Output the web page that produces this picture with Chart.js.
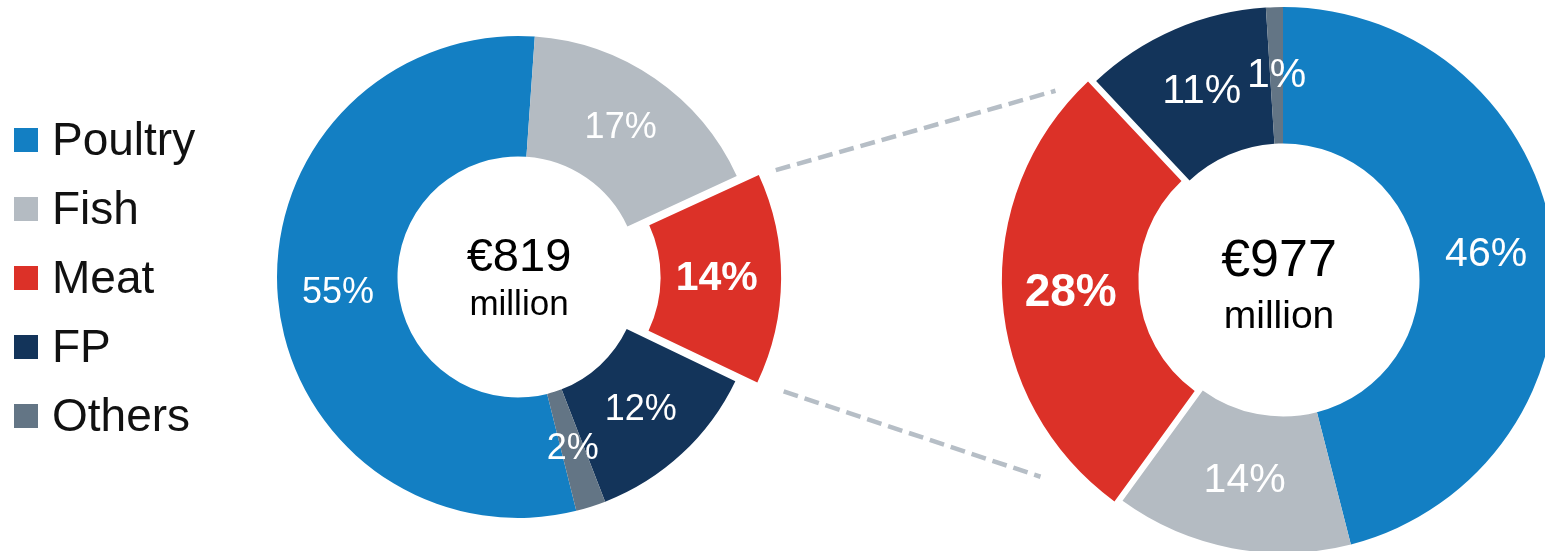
<!DOCTYPE html>
<html>
<head>
<meta charset="utf-8">
<script src="https://cdn.jsdelivr.net/npm/chart.js@4.4.1/dist/chart.umd.min.js"></script>
<style>
  html, body { margin:0; padding:0; background:#fff; width:1545px; height:551px; overflow:hidden;
    font-family:"Liberation Sans", Arial, Helvetica, sans-serif; }
  #wrap { position:relative; width:1545px; height:551px; }
  #wrap canvas { position:absolute; left:0; top:0; }
  #right { pointer-events:none; }
  .lg-box { position:absolute; left:14px; width:24px; height:24px; }
  .lg-txt { position:absolute; left:52px; font-size:46px; line-height:46px; color:#111; white-space:nowrap; }
</style>
</head>
<body>
<div id="wrap">
  <canvas id="left" width="1545" height="551"></canvas>
  <canvas id="right" width="1545" height="551"></canvas>
  <div id="legend"></div>
</div>
<script>
// ---- data ----
const categories  = ['Poultry', 'Fish', 'Meat', 'FP', 'Others'];
const colors      = ['#137FC3', '#B4BBC2', '#DC3128', '#13345A', '#637585'];
const leftValues  = [55, 17, 14, 12, 2];
const rightValues = [46, 14, 28, 11, 1];
const leftTotal   = '€819';
const rightTotal  = '€977';
const unitLabel   = 'million';
const highlight   = 2; // Meat

const FONT = '"Liberation Sans", Arial, Helvetica, sans-serif';

// ---- legend (HTML) ----
const legend = document.getElementById('legend');
categories.forEach((c, i) => {
  const b = document.createElement('div');
  b.className = 'lg-box';
  b.style.top = (128 + i * 69) + 'px';
  b.style.background = colors[i];
  legend.appendChild(b);
  const t = document.createElement('div');
  t.className = 'lg-txt';
  t.style.top = (116 + i * 69) + 'px';
  t.textContent = c;
  legend.appendChild(t);
});

// Chart.js v4 translates an arc by options.offset / 4
function pxOffset(arc) { return (arc.options.offset || 0) / 4; }

// ---- plugins ----
const sliceLabels = {
  id: 'sliceLabels',
  afterDatasetsDraw(chart, args, opts) {
    const ctx = chart.ctx;
    const meta = chart.getDatasetMeta(0);
    const data = chart.data.datasets[0].data;
    meta.data.forEach((arc, i) => {
      const off = pxOffset(arc);
      const mid = (arc.startAngle + arc.endAngle) / 2;
      const r = (arc.innerRadius + arc.outerRadius) / 2 + off;
      const x = arc.x + Math.cos(mid) * r;
      const y = arc.y + Math.sin(mid) * r;
      const bold = i === opts.highlight;
      ctx.save();
      ctx.font = (bold ? 'bold ' + opts.boldSize : opts.size) + 'px ' + FONT;
      ctx.fillStyle = '#ffffff';
      ctx.textAlign = 'center';
      ctx.textBaseline = 'middle';
      ctx.fillText(data[i] + '%', x, y);
      ctx.restore();
    });
    const a0 = meta.data[0];
    ctx.save();
    ctx.fillStyle = '#000';
    ctx.textAlign = 'center';
    ctx.textBaseline = 'alphabetic';
    ctx.font = opts.totalSize + 'px ' + FONT;
    ctx.fillText(opts.total, a0.x + opts.textDx, a0.y + opts.totalDy);
    ctx.font = opts.unitSize + 'px ' + FONT;
    ctx.fillText(unitLabel, a0.x + opts.textDx, a0.y + opts.unitDy);
    ctx.restore();
  }
};

function offsets(px) { return categories.map((_, i) => i === highlight ? px * 4 : 0); }

const leftChart = new Chart(document.getElementById('left'), {
  type: 'doughnut',
  data: { labels: categories, datasets: [{
    data: leftValues, backgroundColor: colors, borderWidth: 0,
    offset: offsets(18), hoverOffset: 0, clip: false
  }]},
  options: {
    responsive: false, animation: false, events: [],
    rotation: 166, radius: 241, cutout: '50%',
    layout: { padding: { left: 0, right: 509, top: 3, bottom: 0 } },
    plugins: {
      legend: { display: false }, tooltip: { enabled: false },
      sliceLabels: { highlight: highlight, size: 36, boldSize: 41, total: leftTotal,
        totalSize: 47, unitSize: 35, totalDy: -6, unitDy: 38, textDx: 1 }
    }
  },
  plugins: [sliceLabels]
});

function arcCorner(arc, angle) {
  const off = pxOffset(arc);
  const mid = (arc.startAngle + arc.endAngle) / 2;
  return {
    x: arc.x + Math.cos(mid) * off + Math.cos(angle) * arc.outerRadius,
    y: arc.y + Math.sin(mid) * off + Math.sin(angle) * arc.outerRadius
  };
}

const connectors = {
  id: 'connectors',
  afterDatasetsDraw(chart) {
    const L = leftChart.getDatasetMeta(0).data[highlight];
    const R = chart.getDatasetMeta(0).data[highlight];
    const segs = [
      [arcCorner(L, L.startAngle), arcCorner(R, R.endAngle), 0.063, 0.902],
      [arcCorner(L, L.endAngle), arcCorner(R, R.startAngle), 0.084, 0.795]
    ];
    const ctx = chart.ctx;
    ctx.save();
    ctx.strokeStyle = '#B6BEC6';
    ctx.lineWidth = 4.5;
    ctx.setLineDash([15, 7]);
    ctx.lineCap = 'butt';
    segs.forEach(([a, b, t0, t1]) => {
      ctx.beginPath();
      ctx.moveTo(a.x + (b.x - a.x) * t0, a.y + (b.y - a.y) * t0);
      ctx.lineTo(a.x + (b.x - a.x) * t1, a.y + (b.y - a.y) * t1);
      ctx.stroke();
    });
    ctx.restore();
  }
};

const rightChart = new Chart(document.getElementById('right'), {
  type: 'doughnut',
  data: { labels: categories, datasets: [{
    data: rightValues, backgroundColor: colors, borderWidth: 0,
    offset: offsets(8), hoverOffset: 0, clip: false
  }]},
  options: {
    responsive: false, animation: false, events: [],
    rotation: 0, radius: 273, cutout: '50%',
    layout: { padding: { left: 1021, right: 0, top: 9, bottom: 0 } },
    plugins: {
      legend: { display: false }, tooltip: { enabled: false },
      sliceLabels: { highlight: highlight, size: 41, boldSize: 46, total: rightTotal,
        totalSize: 52, unitSize: 39, totalDy: -4, unitDy: 48, textDx: -4 }
    }
  },
  plugins: [sliceLabels, connectors]
});
</script>
</body>
</html>
